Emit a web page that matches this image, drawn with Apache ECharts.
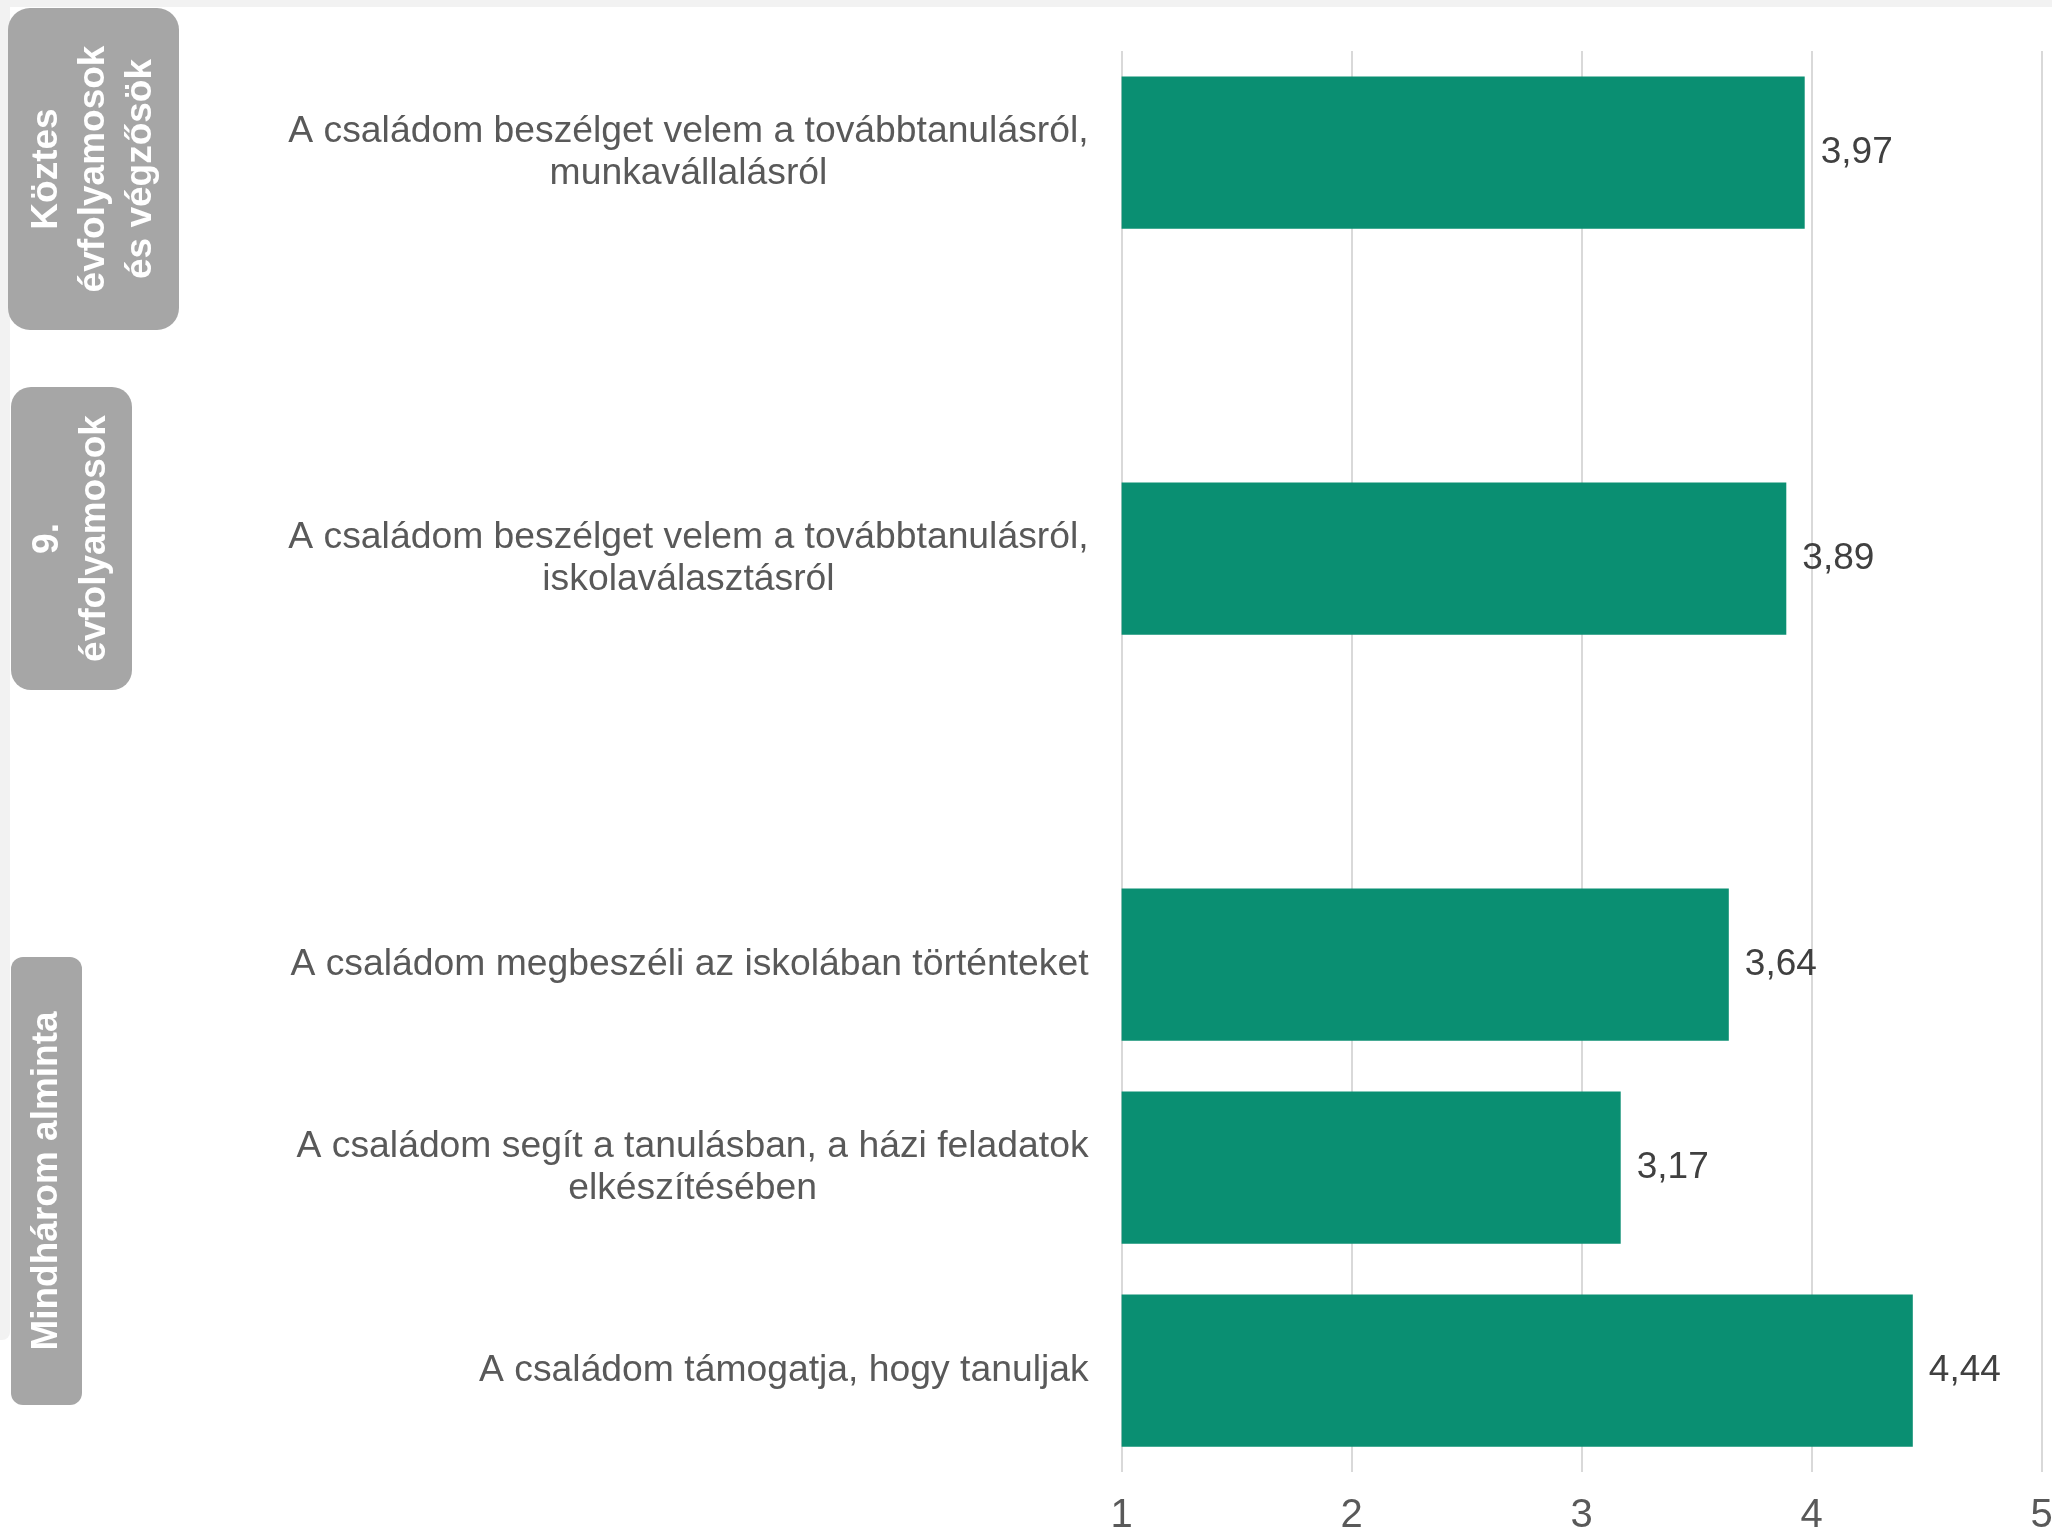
<!DOCTYPE html>
<html>
<head>
<meta charset="utf-8">
<script src="https://cdn.jsdelivr.net/npm/echarts@6/dist/echarts.min.js"></script>
<style>
html,body{margin:0;padding:0;background:#ffffff;}
#chart{width:2052px;height:1530px;}
</style>
</head>
<body>
<div id="chart"></div>
<script>
// Categories (top to bottom); blank entries are spacer rows between groups
const categories = [
  'A családom beszélget velem a továbbtanulásról,\nmunkavállalásról',
  ' ',
  'A családom beszélget velem a továbbtanulásról,\niskolaválasztásról',
  '  ',
  'A családom megbeszéli az iskolában történteket',
  'A családom segít a tanulásban, a házi feladatok\nelkészítésében',
  'A családom támogatja, hogy tanuljak'
];
const values = [3.97, null, 3.89, null, 3.64, 3.17, 4.44];
const tickValues = [1, 2, 3, 4, 5];
const groupLabels = ['Köztes\névfolyamosok\nés végzősök', '9.\névfolyamosok', 'Mindhárom alminta'];

const FONT = '"Liberation Sans", Arial, sans-serif';
const chart = echarts.init(document.getElementById('chart'), null, {renderer: 'canvas'});

function groupBox(x, y, w, h, r, text) {
  return {
    type: 'group',
    children: [
      {type: 'rect', shape: {x: x, y: y, width: w, height: h, r: r}, style: {fill: '#a6a6a6'}, z: 10},
      {type: 'text', x: x + w / 2, y: y + h / 2, rotation: Math.PI / 2, z: 11,
        style: {text: text, align: 'center', verticalAlign: 'middle', fill: '#ffffff',
          font: 'bold 37px ' + FONT, lineHeight: 47}}
    ]
  };
}

const option = {
  backgroundColor: '#ffffff',
  animation: false,
  grid: {left: 1121.6, right: 10.4, top: 51, bottom: 58, containLabel: false, outerBoundsMode: 'none'},
  xAxis: {
    type: 'value',
    min: tickValues[0],
    max: tickValues[tickValues.length - 1],
    interval: 1,
    axisLine: {show: false},
    axisTick: {show: false},
    splitLine: {show: true, lineStyle: {color: '#d9d9d9', width: 2}},
    axisLabel: {fontSize: 40, color: '#595959', fontFamily: FONT, margin: 24}
  },
  yAxis: {
    type: 'category',
    data: categories,
    inverse: true,
    axisLine: {show: false},
    axisTick: {show: false},
    axisLabel: {
      margin: 33,
      align: 'right',
      color: '#595959',
      fontSize: 37.3,
      fontFamily: FONT,
      formatter: function (val) {
        return val.split('\n').map(function (l) { return '{c|' + l + '}'; }).join('\n');
      },
      rich: {
        c: {align: 'center', fontSize: 37.3, color: '#595959', fontFamily: FONT, lineHeight: 42}
      }
    }
  },
  series: [{
    type: 'bar',
    data: values,
    barCategoryGap: '25%',
    itemStyle: {color: '#0a8f72'},
    label: {
      show: true,
      position: 'right',
      distance: 16,
      fontSize: 37,
      fontFamily: FONT,
      color: '#404040',
      formatter: function (p) { return p.value == null ? '' : p.value.toFixed(2).replace('.', ','); }
    }
  }],
  graphic: [
    {type: 'rect', shape: {x: 0, y: 0, width: 2052, height: 7}, style: {fill: '#f2f2f2'}, z: 1},
    {type: 'rect', shape: {x: 0, y: 0, width: 10, height: 1340, r: [0, 0, 8, 0]}, style: {fill: '#f2f2f2'}, z: 1},
    groupBox(8, 8, 171, 322, 22, groupLabels[0]),
    groupBox(11, 387, 121, 303, 20, groupLabels[1]),
    groupBox(11, 957, 71, 448, 12, groupLabels[2])
  ]
};
chart.setOption(option);
</script>
</body>
</html>
